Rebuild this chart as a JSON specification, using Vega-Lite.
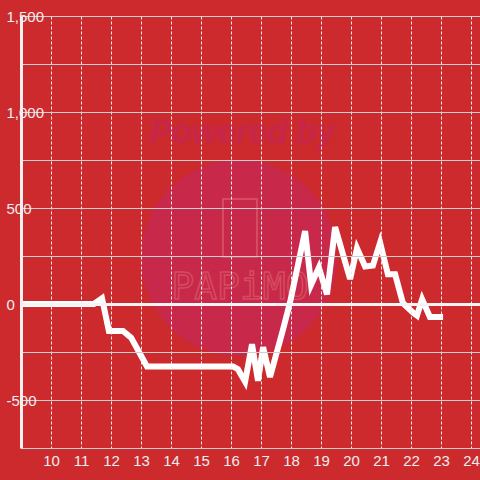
{
  "$schema": "https://vega.github.io/schema/vega-lite/v6.json",
  "width": 459,
  "height": 432,
  "autosize": {"type": "none"},
  "padding": {"left": 21, "top": 16, "right": 0, "bottom": 32},
  "background": "#cd2a2e",
  "config": {
    "view": {"stroke": null},
    "font": "Liberation Sans",
    "axis": {"labelFont": "Liberation Sans", "labelFontSize": 15, "labelColor": "#eeeeee", "ticks": false, "title": null}
  },
  "encoding": {
    "x": {
      "field": "hour", "type": "quantitative",
      "scale": {"domain": [9, 24.3], "nice": false, "zero": false},
      "axis": {
        "values": [10, 11, 12, 13, 14, 15, 16, 17, 18, 19, 20, 21, 22, 23, 24],
        "format": "d",
        "zindex": 1,
        "grid": true, "gridColor": "#eeeeee", "gridDash": [3, 2], "gridWidth": 1,
        "domainColor": "#cccccc", "domainWidth": 1,
        "labelPadding": 5
      }
    },
    "y": {
      "field": "value", "type": "quantitative",
      "scale": {"domain": [-750, 1500], "nice": false, "zero": false},
      "axis": {
        "values": [-750, -500, -250, 0, 250, 500, 750, 1000, 1250, 1500],
        "labelExpr": "datum.value % 500 === 0 ? (datum.value < 0 ? '-' : '') + format(abs(datum.value), ',') : ''",
        "labelAlign": "left",
        "labelPadding": 15,
        "zindex": 1,
        "grid": true,
        "gridColor": {"condition": {"test": "datum.value === 0", "value": "#f4f4f4"}, "value": "#cfcfcf"},
        "gridWidth": {"condition": {"test": "datum.value === 0", "value": 3}, "value": 1},
        "domainColor": "#f0f0f0", "domainWidth": 3
      }
    }
  },
  "layer": [
    {
      "data": {"values": [{"hour": 16.27, "value": 240}]},
      "mark": {"type": "point", "shape": "circle", "filled": true, "size": 38416, "color": "#c8284a", "opacity": 1}
    },
    {
      "data": {"values": [{"hour": 16.37, "value": 890, "label": "Powered by"}]},
      "mark": {"type": "text", "font": "Liberation Sans", "fontSize": 33, "fontWeight": "bold", "fontStyle": "italic", "color": "#c6264a", "align": "center", "baseline": "middle"},
      "encoding": {"text": {"field": "label"}}
    },
    {
      "data": {"values": [{"hour": 16.3, "value": 396}]},
      "mark": {"type": "point", "shape": "M-0.586,-1H0.586V1H-0.586Z", "filled": false, "size": 3364, "stroke": "#d54c5e", "strokeWidth": 2, "opacity": 1}
    },
    {
      "data": {"values": [{"hour": 16.3, "value": 83, "label": "PAPiMO"}]},
      "mark": {"type": "text", "font": "DejaVu Sans Mono", "fontSize": 38, "fill": "transparent", "stroke": "#d54c5e", "strokeWidth": 1.5, "align": "center", "baseline": "middle"},
      "encoding": {"text": {"field": "label"}}
    },
    {
      "data": {"values": [
        {"hour": 9.0, "value": 0},
        {"hour": 9.5, "value": 0},
        {"hour": 10.0, "value": 0},
        {"hour": 10.5, "value": 0},
        {"hour": 11.0, "value": 0},
        {"hour": 11.43, "value": 0},
        {"hour": 11.7, "value": 30},
        {"hour": 11.93, "value": -140},
        {"hour": 12.4, "value": -140},
        {"hour": 12.67, "value": -175},
        {"hour": 13.2, "value": -325},
        {"hour": 14.0, "value": -325},
        {"hour": 15.0, "value": -325},
        {"hour": 16.07, "value": -325},
        {"hour": 16.23, "value": -340},
        {"hour": 16.47, "value": -405},
        {"hour": 16.7, "value": -210},
        {"hour": 16.9, "value": -400},
        {"hour": 17.07, "value": -225},
        {"hour": 17.3, "value": -380},
        {"hour": 17.73, "value": -135},
        {"hour": 17.97, "value": 10},
        {"hour": 18.47, "value": 380},
        {"hour": 18.67, "value": 100},
        {"hour": 18.93, "value": 190},
        {"hour": 19.2, "value": 50},
        {"hour": 19.47, "value": 400},
        {"hour": 19.97, "value": 130},
        {"hour": 20.2, "value": 290},
        {"hour": 20.47, "value": 195},
        {"hour": 20.73, "value": 200},
        {"hour": 20.97, "value": 320},
        {"hour": 21.23, "value": 155},
        {"hour": 21.47, "value": 155},
        {"hour": 21.73, "value": 5},
        {"hour": 22.07, "value": -45},
        {"hour": 22.2, "value": -60},
        {"hour": 22.37, "value": 25},
        {"hour": 22.63, "value": -68},
        {"hour": 23.07, "value": -68}
      ]},
      "mark": {"type": "line", "color": "#ffffff", "strokeWidth": 6, "strokeJoin": "miter", "strokeMiterLimit": 4, "clip": true}
    }
  ]
}
